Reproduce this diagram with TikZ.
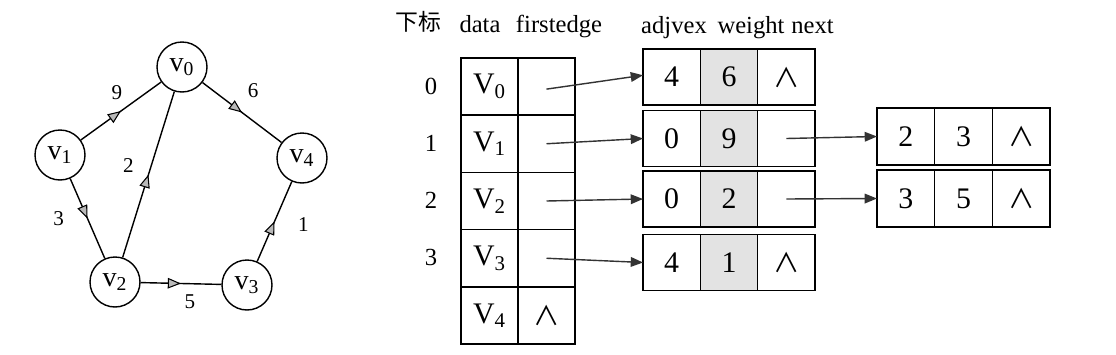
\documentclass[tikz,border=0pt]{standalone}
\usepackage{fontspec}
\setmainfont{Liberation Serif}
\newfontfamily\cjk{Noto Sans CJK SC}
\usetikzlibrary{arrows.meta,decorations.markings,positioning}
\begin{document}
\begin{tikzpicture}[x=0.02cm,y=-0.02cm,
  vert/.style={circle,draw,line width=0.8pt,minimum size=1cm,inner sep=0pt,font=\fontsize{16}{16}\selectfont},
  garc/.style={line width=0.8pt,postaction={decorate},decoration={markings,mark=at position 0.5 with {\arrow{Triangle[length=7.5pt,width=6pt,fill=gray!55,line width=0.6pt]}}}},
  wlab/.style={font=\fontsize{12}{12}\selectfont,inner sep=1pt},
  hdr/.style={font=\fontsize{14}{14}\selectfont,inner sep=0pt,anchor=base},
  idx/.style={font=\fontsize{14}{14}\selectfont,inner sep=0pt},
  vcell/.style={draw,line width=0.9pt,minimum width=1.14cm,minimum height=1.145cm,inner sep=0pt,outer sep=0pt,font=\fontsize{17}{17}\selectfont},
  ecell/.style={draw,line width=0.9pt,minimum width=1.1466cm,minimum height=1.12cm,inner sep=0pt,outer sep=0pt,font=\fontsize{17}{17}\selectfont},
  ecellb/.style={draw,line width=0.9pt,minimum width=1.153cm,minimum height=1.14cm,inner sep=0pt,outer sep=0pt,font=\fontsize{17}{17}\selectfont},
  wshade/.style={fill=gray!22},
  ptr/.style={line width=0.8pt,-{Triangle[length=7pt,width=5.5pt]},draw=black!80},
]
\useasboundingbox (0,0) rectangle (1116,355);
\newcommand{\nilsym}{{\cjk\fontsize{15}{15}\selectfont ∧}}

% ---------- graph ----------
\node[vert] (v0) at (182,67) {v\textsubscript{0}};
\node[vert] (v1) at (60,155) {v\textsubscript{1}};
\node[vert] (v4) at (302,158) {v\textsubscript{4}};
\node[vert] (v2) at (115,282) {v\textsubscript{2}};
\node[vert] (v3) at (247,285) {v\textsubscript{3}};

\draw[garc] (v1) -- node[wlab,above left=5pt and -2pt] {9} (v0);
\draw[garc] (v0) -- node[wlab,above right=7pt and 2pt] {6} (v4);
\draw[garc] (v1) -- node[wlab,left=12pt] {3} (v2);
\draw[garc] (v2) -- node[wlab,above left=0pt and 7pt] {2} (v0);
\draw[garc] (v2) -- node[wlab,below=5pt,xshift=5pt] {5} (v3);
\draw[garc] (v3) -- node[wlab,right=12pt,yshift=-2pt] {1} (v4);

% ---------- headers ----------
\node[hdr,font=\cjk\fontsize{13}{13}\selectfont] (hidx) at (418,31) {下标};
\node[hdr] (hdata) at (480,32) {data};
\node[hdr] (hfirst) at (559,32) {firstedge};
\node[hdr] (hadj) at (674,33) {adjvex};
\node[hdr] (hwt) at (751,33) {weight};
\node[hdr] (hnext) at (812.5,33) {next};

% ---------- vertex table ----------
\foreach \i in {0,...,4} {
  \node[vcell] (d\i) at (489.5,{86.5+57.25*\i}) {V\textsubscript{\i}};
  \node[vcell] (f\i) at (546.5,{86.5+57.25*\i}) {};
}
\node at (f4) {\nilsym};
\foreach \i in {0,...,3} {
  \node[idx] (ix\i) at (431,{86+57.25*\i}) {\i};
}

% ---------- edge nodes, first column ----------
\node[ecell] (a0) at (671.7,77) {4};
\node[ecell,wshade] (w0) at (729,77) {6};
\node[ecell] (n0) at (786.3,77) {\nilsym};

\node[ecell] (a1) at (671.7,138.5) {0};
\node[ecell,wshade] (w1) at (729,138.5) {9};
\node[ecell] (n1) at (786.3,138.5) {};

\node[ecell] (a2) at (671.7,199) {0};
\node[ecell,wshade] (w2) at (729,199) {2};
\node[ecell] (n2) at (786.3,199) {};

\node[ecell] (a3) at (671.7,262.5) {4};
\node[ecell,wshade] (w3) at (729,262.5) {1};
\node[ecell] (n3) at (786.3,262.5) {\nilsym};

% ---------- edge nodes, second column ----------
\node[ecellb] (b1) at (905.8,136.5) {2};
\node[ecellb] (c1) at (963.5,136.5) {3};
\node[ecellb] (m1) at (1021.2,136.5) {\nilsym};

\node[ecellb] (b2) at (905.8,198.5) {3};
\node[ecellb] (c2) at (963.5,198.5) {5};
\node[ecellb] (m2) at (1021.2,198.5) {\nilsym};

% ---------- pointers ----------
\draw[ptr] ([yshift=-1.5pt]f0.center) -- ([yshift=1pt]a0.west);
\draw[ptr] (f1.center) -- (a1.west);
\draw[ptr] (f2.center) -- (a2.west);
\draw[ptr] (f3.center) -- (a3.west);
\draw[ptr] (n1.center) -- (b1.west);
\draw[ptr] (n2.center) -- (b2.west);
\end{tikzpicture}
\end{document}
